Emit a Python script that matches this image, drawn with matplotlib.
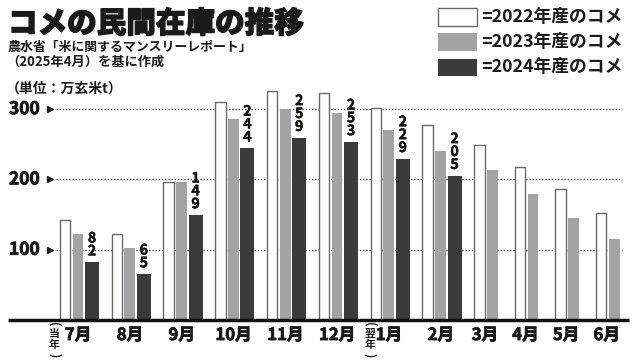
import matplotlib
matplotlib.use("Agg")
import matplotlib.pyplot as plt
from matplotlib.patches import Rectangle
import matplotlib.patheffects as pe

plt.rcParams['font.family'] = ['Noto Sans CJK JP', 'DejaVu Sans']

months = ["7月", "8月", "9月", "10月", "11月", "12月", "1月", "2月", "3月", "4月", "5月", "6月"]
v2022 = [142, 122, 197, 310, 326, 323, 302, 277, 249, 217, 186, 152]
v2023 = [123, 103, 196, 286, 300, 294, 270, 240, 213, 179, 145, 115]
v2024 = [82, 65, 149, 244, 259, 253, 229, 205, None, None, None, None]
yticks = [100, 200, 300]
legend_labels = ["=2022年産のコメ", "=2023年産のコメ", "=2024年産のコメ"]

W, H = 640, 364
fig = plt.figure(figsize=(6.4, 3.64), dpi=100)
ax = fig.add_axes([0, 0, 1, 1])
PX = 0.703  # pixels per unit
ax.set_xlim(0, W)
ax.set_ylim(-(H - 320) / PX, 320 / PX)
ax.axis('off')

def fx(px):
    return px / W

def fy(py):
    return 1 - py / H

def vy(py):
    return (320 - py) / PX

ink = '#1a1a1a'
c22_edge = '#6a6a6a'
c23 = '#a3a3a6'
c24 = '#3b3b3d'
thin = [pe.withStroke(linewidth=0.3, foreground='#111111')]
thick = [pe.withStroke(linewidth=0.6, foreground=ink)]
heavy = [pe.withStroke(linewidth=0.9, foreground=ink)]

# gridlines
ax.hlines(yticks, 56, 622, colors='#555555', linestyles=(0, (1, 1.3)), lw=1, zorder=1)
ax.plot([50] * len(yticks), yticks, ls='none', marker='>', ms=4.5, color='#222222', zorder=3)
for t in yticks:
    ax.text(9, t, str(t), ha='left', va='center', fontsize=12.5, fontweight='bold', color=ink,
            path_effects=thick)

# bars
start = 59.3
for i, m in enumerate(months):
    n = 3 if v2024[i] is not None else 2
    ax.bar(start + 5.7, v2022[i], width=10.3, color='white', edgecolor=c22_edge, lw=1, zorder=2)
    ax.bar(start + 18.7, v2023[i], width=10.7, color=c23, lw=0, zorder=2)
    if n == 3:
        ax.bar(start + 32.7, v2024[i], width=14, color=c24, lw=0, zorder=2)
        ax.text(start + 32.7, v2024[i] + 4 / PX, "\n".join(str(v2024[i])), ha='center', va='bottom',
                fontsize=10.2, fontweight='bold', linespacing=0.9, color='#111111', zorder=4,
                path_effects=thin)
        gw = 39.7
    else:
        gw = 24.4
    ax.text(start + gw / 2 - 1, vy(335), m, ha='center', va='center', fontsize=12,
            fontweight='bold', color=ink, path_effects=thick)
    marks = None
    if m == "7月":
        marks = ("当", "年", start - 5)
    if m == "1月":
        marks = ("翌", "年", start - 0.5)
    if marks is not None:
        c1, c2, xx = marks
        ax.text(xx, vy(324.5), "(", rotation=-90, ha='center', va='center', fontsize=8.5,
                fontweight='bold', color=ink, zorder=6)
        ax.text(xx, vy(333.5), c1, ha='center', va='center', fontsize=7.8, fontweight='bold',
                color=ink, zorder=6)
        ax.text(xx, vy(345), c2, ha='center', va='center', fontsize=7.8, fontweight='bold',
                color=ink, zorder=6)
        ax.text(xx, vy(355.5), ")", rotation=-90, ha='center', va='center', fontsize=8.5,
                fontweight='bold', color=ink, zorder=6)
    start += 11.2 * n + 18.2

# baseline
ax.hlines(0, 8, 629, colors='#111111', lw=2.5, zorder=5)

# titles
fig.text(fx(8), fy(24), "コメの民間在庫の推移", ha='left', va='center', fontsize=21.3,
         fontweight='black', color=ink, path_effects=heavy)
fig.text(fx(8), fy(47), "農水省「米に関するマンスリーレポート」", ha='left', va='center', fontsize=9.3,
         fontweight='bold', color=ink)
fig.text(fx(6), fy(62), "（2025年4月）を基に作成", ha='left', va='center', fontsize=9.5,
         fontweight='bold', color=ink)
fig.text(fx(6), fy(89), "（単位：万玄米t）", ha='left', va='center', fontsize=10,
         fontweight='bold', color=ink)

# legend
box_styles = [dict(facecolor='white', edgecolor=c22_edge, lw=1),
              dict(facecolor=c23, edgecolor='none'),
              dict(facecolor=c24, edgecolor='none')]
for k, (lab, st) in enumerate(zip(legend_labels, box_styles)):
    top = 8.5 + k * 25
    fig.patches.append(Rectangle((fx(437.5), fy(top + 17)), 39.5 / W, 17 / H,
                                 transform=fig.transFigure, figure=fig, **st))
    fig.text(fx(481), fy(top + 8.5), lab, ha='left', va='center', fontsize=12.8,
             fontweight='bold', color=ink)

fig.savefig("out.png", dpi=100)
